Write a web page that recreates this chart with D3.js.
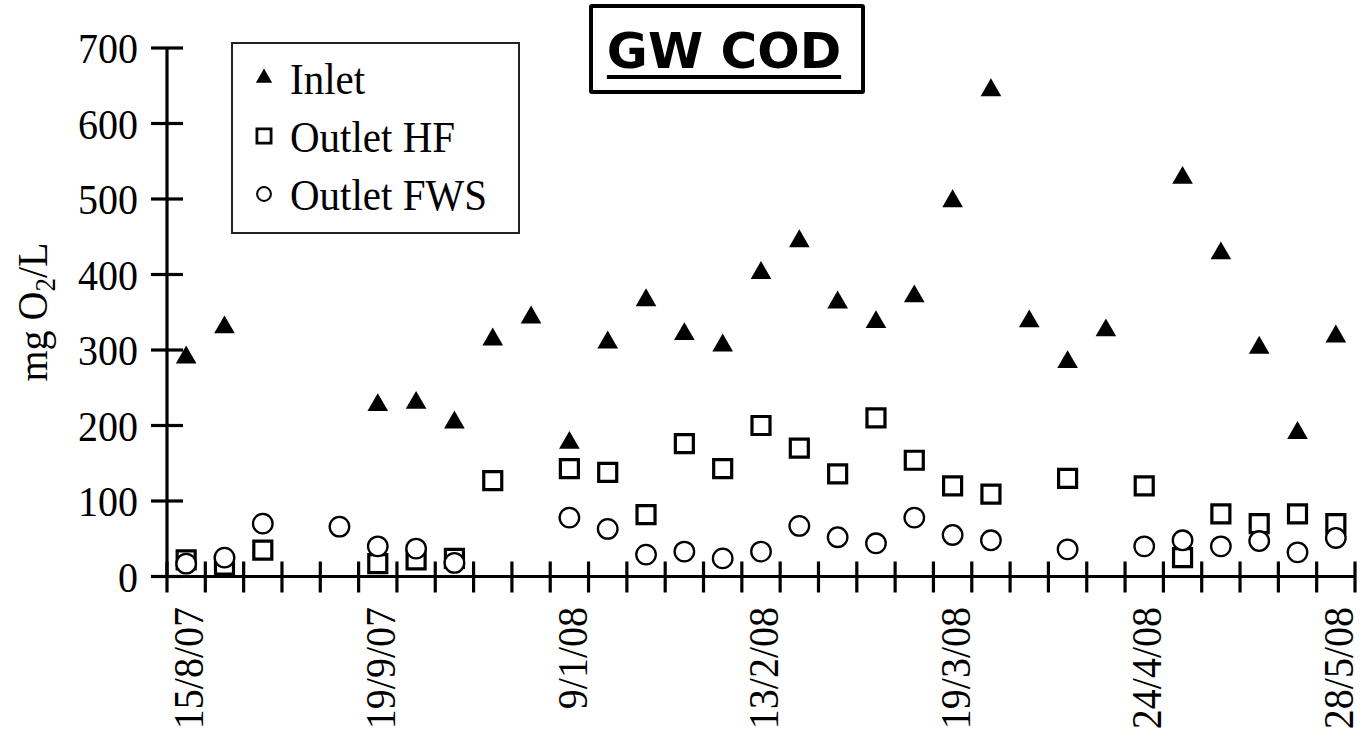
<!DOCTYPE html>
<html>
<head>
<meta charset="utf-8">
<script src="https://cdn.jsdelivr.net/npm/d3@7"></script>
<style>
  html, body { margin: 0; padding: 0; background: #fff; }
  svg { display: block; }
</style>
</head>
<body>
<script>
// ---- data ----
const sampleIndex = d3.range(31); // sampling events (category axis)
const tickLabels = ["15/8/07", "19/9/07", "9/1/08", "13/2/08", "19/3/08", "24/4/08", "28/5/08"];
const tickLabelIndex = [0, 5, 10, 15, 20, 25, 30];
const inlet = [290, 330, null, null, null, 227, 230, 204, 314, 343, 177, 310, 366, 321, 306, 402, 444, 363, 337, 371, 497, 644, 338, 284, 326, null, 528, 428, 303, 190, 318];
const outletHF = [22, 15, 35, null, null, 17, 22, 24, 127, null, 143, 138, 82, 176, 143, 200, 170, 136, 210, 154, 120, 109, null, 130, null, 120, 25, 83, 70, 83, 70];
const outletFWS = [17, 25, 70, null, 66, 40, 37, 18, null, null, 78, 63, 29, 33, 24, 33, 67, 52, 44, 78, 55, 48, null, 36, null, 40, 48, 40, 47, 32, 51];
const yTicks = [0, 100, 200, 300, 400, 500, 600, 700];
const seriesNames = ["Inlet", "Outlet HF", "Outlet FWS"];
const titleText = "GW COD";

const W = 1364, H = 739;
const svg = d3.select("body").append("svg").attr("width", W).attr("height", H);

const x = d3.scaleBand().domain(sampleIndex).range([167, 1355]).padding(0);
const y = d3.scaleLinear().domain([0, 700]).range([576.5, 48]);
const x0 = x.range()[0];

const serif = "'Liberation Serif', 'Times New Roman', serif";

// axes lines
const ax = svg.append("g").attr("stroke", "#000").attr("stroke-width", 3.2);
ax.append("line").attr("x1", x0).attr("x2", x0).attr("y1", y(700)).attr("y2", y(0));
ax.append("line").attr("x1", x0).attr("x2", x.range()[1]).attr("y1", y(0)).attr("y2", y(0));
// y ticks (crossing)
ax.selectAll(".yt").data(yTicks).enter().append("line")
  .attr("x1", x0 - 16).attr("x2", x0 + 16)
  .attr("y1", d => y(d)).attr("y2", d => y(d));
// x ticks at category boundaries (crossing)
const bounds = sampleIndex.map(i => x(i)).concat([x.range()[1]]);
ax.selectAll(".xt").data(bounds).enter().append("line")
  .attr("x1", d => d).attr("x2", d => d)
  .attr("y1", y(0) - 15).attr("y2", y(0) + 16);

// y tick labels
svg.append("g").selectAll("text").data(yTicks).enter().append("text")
  .attr("transform", d => `translate(138,${y(d)}) scale(1,1.08)`)
  .attr("dy", "0.35em")
  .attr("text-anchor", "end")
  .attr("font-family", serif).attr("font-size", 40)
  .text(d => d);

// x tick labels (rotated)
svg.append("g").selectAll("text").data(tickLabelIndex).enter().append("text")
  .attr("transform", d => `translate(${x(d) + x.bandwidth() / 2 + 2},607) rotate(-90) scale(1,1.08)`)
  .attr("dy", "0.35em")
  .attr("text-anchor", "end")
  .attr("font-family", serif).attr("font-size", 40)
  .text((d, i) => tickLabels[i]);

// y axis title
const yt = svg.append("text")
  .attr("transform", "translate(47,312) rotate(-90) scale(1,1.08)")
  .attr("text-anchor", "middle")
  .attr("font-family", serif).attr("font-size", 40);
yt.append("tspan").text("mg O");
yt.append("tspan").attr("font-size", 27).attr("baseline-shift", "-30%").text("2");
yt.append("tspan").text("/L");

// markers
const cx = i => x(i) + x.bandwidth() / 2;
const sq = d3.symbol().type(d3.symbolSquare).size(324);
const ci = d3.symbol().type(d3.symbolCircle).size(300);
const tr = d3.symbol().type(d3.symbolTriangle).size(185);

svg.append("g").selectAll("path").data(sampleIndex.filter(i => outletHF[i] != null)).enter().append("path")
  .attr("d", sq).attr("transform", i => `translate(${cx(i)},${y(outletHF[i])})`)
  .attr("fill", "#fff").attr("stroke", "#000").attr("stroke-width", 3.2);
svg.append("g").selectAll("path").data(sampleIndex.filter(i => outletFWS[i] != null)).enter().append("path")
  .attr("d", ci).attr("transform", i => `translate(${cx(i)},${y(outletFWS[i])})`)
  .attr("fill", "#fff").attr("stroke", "#000").attr("stroke-width", 2.3);
svg.append("g").selectAll("path").data(sampleIndex.filter(i => inlet[i] != null)).enter().append("path")
  .attr("d", tr).attr("transform", i => `translate(${cx(i)},${y(inlet[i])})`)
  .attr("fill", "#000");

// legend
const lg = svg.append("g");
lg.append("rect").attr("x", 232).attr("y", 43).attr("width", 287).attr("height", 190)
  .attr("fill", "#fff").attr("stroke", "#222").attr("stroke-width", 2);
const lgY = [78, 136, 194];
const lsym = [
  d3.symbol().type(d3.symbolTriangle).size(115),
  d3.symbol().type(d3.symbolSquare).size(200),
  d3.symbol().type(d3.symbolCircle).size(150)
];
seriesNames.forEach((n, k) => {
  const p = lg.append("path").attr("d", lsym[k]()).attr("transform", `translate(264,${lgY[k]})`);
  if (k === 0) p.attr("fill", "#000");
  else p.attr("fill", "#fff").attr("stroke", "#000").attr("stroke-width", k === 1 ? 2.8 : 2);
  lg.append("text").attr("transform", `translate(290,${lgY[k]}) scale(1,1.08)`).attr("dy", "0.35em")
    .attr("font-family", serif).attr("font-size", 41).text(n);
});

// title box
const tg = svg.append("g");
tg.append("rect").attr("x", 591).attr("y", 6).attr("width", 272).attr("height", 86)
  .attr("fill", "#fff").attr("stroke", "#000").attr("stroke-width", 4).attr("rx", 1);
const tt = tg.append("text").attr("x", 724).attr("y", 68).attr("text-anchor", "middle")
  .attr("font-family", "'DejaVu Sans', Verdana, sans-serif").attr("font-weight", "bold")
  .attr("font-size", 50).text(titleText);
const tl = tt.node().getComputedTextLength();
tg.append("line").attr("x1", 724 - tl / 2).attr("x2", 724 + tl / 2).attr("y1", 77).attr("y2", 77)
  .attr("stroke", "#000").attr("stroke-width", 4);
</script>
</body>
</html>
